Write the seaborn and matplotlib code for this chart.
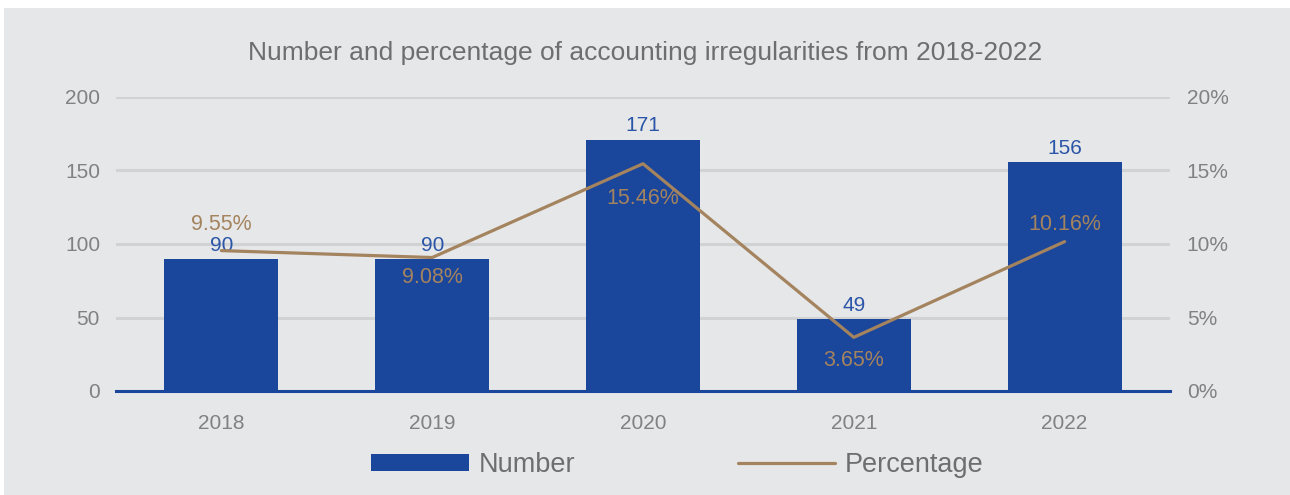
import matplotlib
matplotlib.use("Agg")
import matplotlib.pyplot as plt
from matplotlib.patches import Rectangle, Patch
from matplotlib.lines import Line2D
import numpy as np
import seaborn as sns

years = ["2018", "2019", "2020", "2021", "2022"]
numbers = [90, 90, 171, 49, 156]
percentages = [9.55, 9.08, 15.46, 3.65, 10.16]
# vertical offset (points) of each percentage label from its point
pct_label_offsets = [18.5, -14.5, -25, -17, 12]

BG = "#e6e7e8"
BAR = "#1a469b"
LINE = "#a4835f"
GRID = "#d1d2d4"
TICK = "#808184"
TITLE = "#6d6e71"

sns.set_theme(style="white")
plt.rcParams["font.family"] = ["Liberation Sans", "DejaVu Sans"]

fig = plt.figure(figsize=(12.9, 4.95), dpi=100, facecolor="white")
fig.patches.append(Rectangle((4 / 1290, 0), 1, 1 - 8 / 495, transform=fig.transFigure,
                             facecolor=BG, edgecolor="none", zorder=-10))

ax = fig.add_axes([116 / 1290, 1 - 391 / 495, (1170 - 116) / 1290, (391 - 97) / 495])
ax.set_facecolor("none")

sns.barplot(x=years, y=numbers, color=BAR, width=0.54, saturation=1,
            edgecolor="none", linewidth=0, ax=ax, zorder=2)
ax.set_ylim(0, 200)
ax.set_yticks([0, 50, 100, 150, 200])
ax.set_xlim(-0.5, len(years) - 0.5)
ax.yaxis.grid(True, color=GRID, linewidth=2.2)
ax.set_axisbelow(True)
for s in ["top", "right", "left"]:
    ax.spines[s].set_visible(False)
ax.spines["bottom"].set_color(BAR)
ax.spines["bottom"].set_linewidth(2.2)
ax.spines["bottom"].set_zorder(3)
ax.set_xlabel("")
ax.set_ylabel("")
ax.tick_params(axis="both", length=0, labelsize=15, colors=TICK)
ax.tick_params(axis="x", pad=16.5)
ax.tick_params(axis="y", pad=11.5)

for i, v in enumerate(numbers):
    ax.annotate(f"{v}", (i, v), xytext=(0, 3), textcoords="offset points",
                ha="center", va="bottom", fontsize=15, color="#2a55a8", zorder=5)

ax2 = ax.twinx()
ax2.set_facecolor("none")
xpos = np.arange(len(years))
sns.lineplot(x=xpos, y=percentages, color=LINE, linewidth=2.3, ax=ax2)
ax2.set_ylim(0, 20)
ax2.set_yticks([0, 5, 10, 15, 20])
ax2.set_yticklabels([f"{t}%" for t in [0, 5, 10, 15, 20]])
ax2.set_xlim(-0.5, len(years) - 0.5)
for s in ["top", "right", "left", "bottom"]:
    ax2.spines[s].set_visible(False)
ax2.tick_params(axis="y", length=0, labelsize=15, colors=TICK, pad=12)
ax2.set_ylabel("")

for i, (v, off) in enumerate(zip(percentages, pct_label_offsets)):
    ax2.annotate(f"{v:.2f}%", (i, v), xytext=(0, off), textcoords="offset points",
                 ha="center", va="center", fontsize=15.5, color=LINE, zorder=6)

fig.text(0.5, 1 - 53 / 495, "Number and percentage of accounting irregularities from 2018-2022",
         ha="center", va="center", fontsize=19, color=TITLE)

handles = [Patch(facecolor=BAR, edgecolor="none"),
           Line2D([0], [0], color=LINE, linewidth=2.3)]
fig.legend(handles, ["Number", "Percentage"], loc="center", ncol=2,
           bbox_to_anchor=(677.5 / 1290, 1 - 465 / 495), frameon=False, fontsize=19.5,
           labelcolor=TITLE, handlelength=3.6, handleheight=0.6, handletextpad=0.37,
           columnspacing=6.0)

fig.savefig("out.png", dpi=100, facecolor="white")
